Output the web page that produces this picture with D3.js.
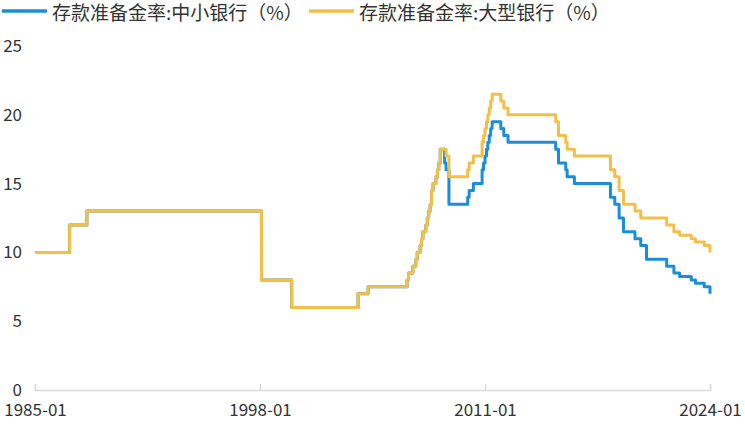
<!DOCTYPE html>
<html><head><meta charset="utf-8">
<script src="https://cdn.jsdelivr.net/npm/d3@7"></script>
<style>
html,body{margin:0;padding:0;background:#fff;}
svg{display:block;}
svg text{font-family:"Noto Sans CJK SC","Noto Sans",sans-serif;}
</style></head>
<body><svg id="c" width="745" height="426"></svg>
<script>
// Series names
const seriesNames = ["存款准备金率:中小银行（%）", "存款准备金率:大型银行（%）"];
// Change points (month, value) — large banks
const largeDates = ["1985-01","1987-01","1988-01","1998-02","1999-11","2003-09","2004-04","2006-07","2006-08","2006-11","2007-01","2007-02","2007-04","2007-05","2007-06","2007-08","2007-09","2007-10","2007-11","2007-12","2008-01","2008-03","2008-04","2008-05","2008-06","2008-10","2008-12","2010-01","2010-02","2010-05","2010-11","2010-12","2011-01","2011-02","2011-03","2011-04","2011-05","2011-06","2011-12","2012-02","2012-05","2015-02","2015-04","2015-09","2015-10","2016-03","2018-04","2018-07","2018-10","2019-01","2019-09","2020-01","2021-07","2021-12","2022-04","2022-12","2023-03","2023-09","2024-01"];
const largeValues = [10,12,13,8,6,7,7.5,8,8.5,9,9.5,10,10.5,11,11.5,12,12.5,13,13.5,14.5,15,15.5,16,16.5,17.5,17,15.5,16,16.5,17,18,18.5,19,19.5,20,20.5,21,21.5,21,20.5,20,19.5,18.5,18,17.5,17,16,15.5,14.5,13.5,13,12.5,12,11.5,11.25,11,10.75,10.5,10];
// Change points — small & medium banks
const smallDates = ["1985-01","1987-01","1988-01","1998-02","1999-11","2003-09","2004-04","2006-07","2006-08","2006-11","2007-01","2007-02","2007-04","2007-05","2007-06","2007-08","2007-09","2007-10","2007-11","2007-12","2008-01","2008-03","2008-04","2008-05","2008-06","2008-09","2008-10","2008-12","2010-01","2010-02","2010-05","2010-11","2010-12","2011-01","2011-02","2011-03","2011-04","2011-05","2011-06","2011-12","2012-02","2012-05","2015-02","2015-04","2015-09","2015-10","2016-03","2018-04","2018-07","2018-10","2019-01","2019-09","2020-01","2020-05","2021-07","2021-12","2022-04","2022-12","2023-03","2023-09","2024-01"];
const smallValues = [10,12,13,8,6,7,7.5,8,8.5,9,9.5,10,10.5,11,11.5,12,12.5,13,13.5,14.5,15,15.5,16,16.5,17.5,16.5,16,13.5,14,14.5,15,16,16.5,17,17.5,18,18.5,19,19.5,19,18.5,18,17.5,16.5,16,15.5,15,14,13.5,12.5,11.5,11,10.5,9.5,9,8.5,8.25,8,7.75,7.5,7];
// Axis ticks
const xTickLabels = ["1985-01","1998-01","2011-01","2024-01"];
const yTicks = [0,5,10,15,20,25];
const colors = ["#1a8ddb","#f2bf48"];
const FONT = '"Noto Sans CJK SC","Noto Sans",sans-serif';

const parse = d3.timeParse("%Y-%m");
const svg = d3.select("#c");
const x = d3.scaleTime().domain([parse("1985-01"), parse("2024-01")]).range([35, 710]);
const y = d3.scaleLinear().domain([0, 25]).range([390, 46]);

// Y axis labels
const yAxis = d3.axisLeft(y).tickValues(yTicks).tickSize(0).tickPadding(0).tickFormat(d3.format("d"));
const gy = svg.append("g").attr("transform","translate(22,0)").call(yAxis).attr("font-family", FONT);
gy.select(".domain").remove();
gy.selectAll("text").attr("fill","#333").attr("font-size", 17);

// X axis
const xAxis = d3.axisBottom(x).tickValues(xTickLabels.map(parse)).tickSize(-6).tickPadding(14).tickFormat(d3.timeFormat("%Y-%m"));
const gx = svg.append("g").attr("transform","translate(0,390)").call(xAxis).attr("font-family", FONT);
gx.select(".domain").attr("stroke","#d9d9d9").attr("stroke-width",1.5);
gx.selectAll(".tick line").attr("stroke","#d9d9d9").attr("stroke-width",1.5);
gx.selectAll("text").attr("fill","#333").attr("font-size", 17);

// Lines
const line = d3.line().x(d => x(d.date)).y(d => y(d.v)).curve(d3.curveStepAfter);
const series = [
  smallDates.map((d,i)=>({date:parse(d), v:smallValues[i]})),
  largeDates.map((d,i)=>({date:parse(d), v:largeValues[i]}))
];
series.forEach((s,i)=>{
  svg.append("path").datum(s).attr("d", line).attr("fill","none")
    .attr("stroke", colors[i]).attr("stroke-width", 3).attr("stroke-linejoin","round");
});

// Legend
const legendX = [2, 309];
seriesNames.forEach((n,i)=>{
  const g = svg.append("g").attr("transform", `translate(${legendX[i]},11)`);
  g.append("line").attr("x1",0).attr("x2",45).attr("y1",0).attr("y2",0)
    .attr("stroke", colors[i]).attr("stroke-width",3.5);
  g.append("text").attr("x", 50).attr("y",2).attr("dy","0.35em")
    .attr("fill","#333").attr("font-size", 19).text(n);
});
</script></body></html>
